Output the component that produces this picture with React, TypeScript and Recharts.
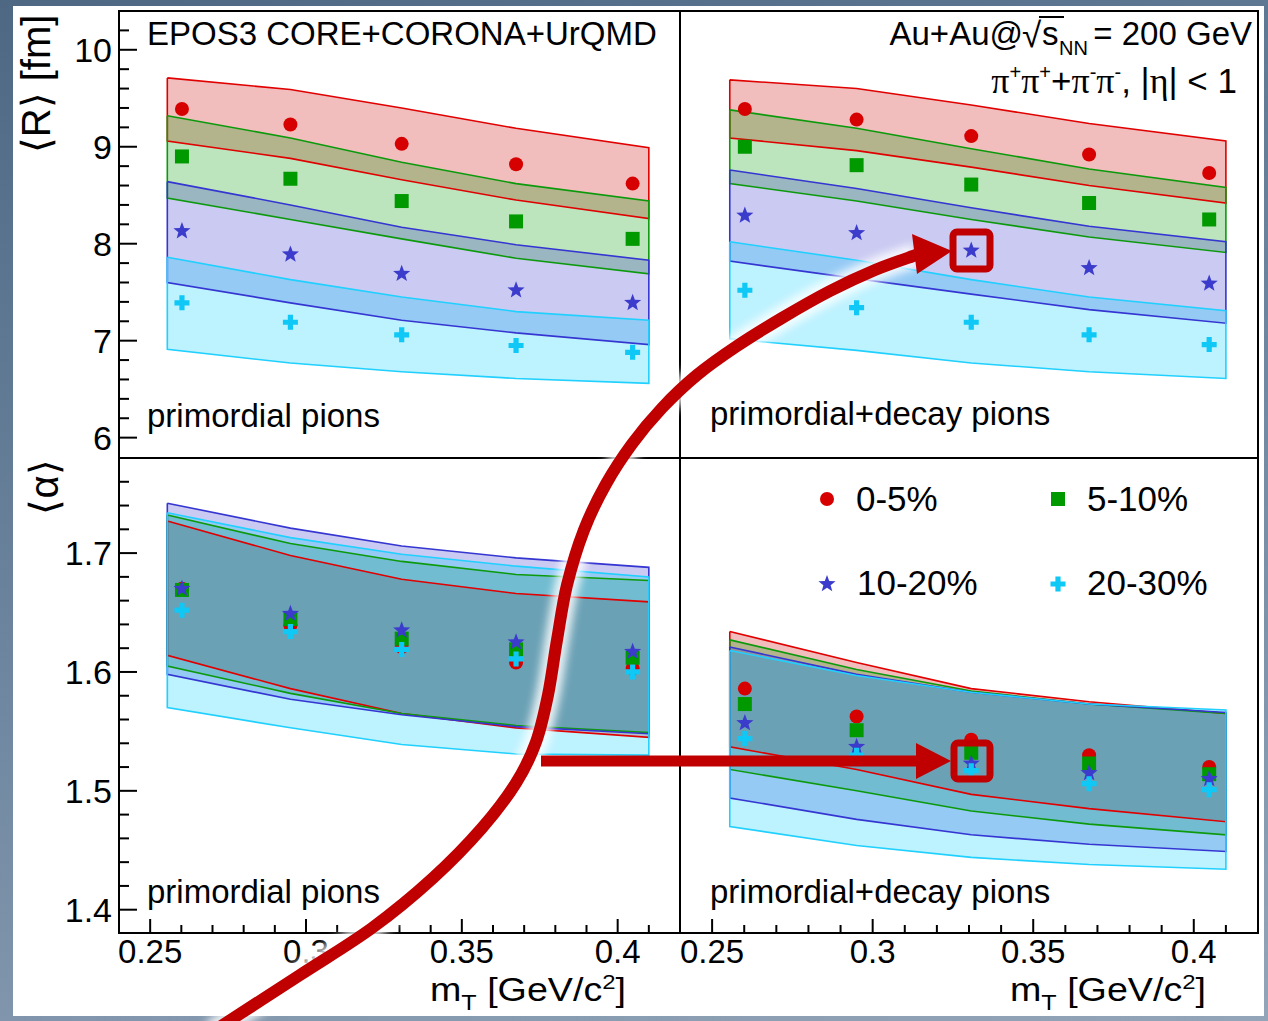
import React from "react";
import { ComposedChart, Area, Scatter, XAxis, YAxis } from "recharts";

// ---------------- data ----------------
const centralities = ["0-5%", "5-10%", "10-20%", "20-30%"];
const mT = [0.2602, 0.295, 0.3307, 0.3674, 0.4048];
const bandMT = [0.2555, 0.295, 0.3307, 0.3674, 0.41];

const xTicks = [0.25, 0.26, 0.27, 0.28, 0.29, 0.3, 0.31, 0.32, 0.33, 0.34, 0.35, 0.36, 0.37, 0.38, 0.39, 0.4, 0.41];
const xMajorTicks = [0.25, 0.3, 0.35, 0.4];
const xTickLabels = ["0.25", "0.3", "0.35", "0.4"];

const rTicks = [6, 6.2, 6.4, 6.6, 6.8, 7, 7.2, 7.4, 7.6, 7.8, 8, 8.2, 8.4, 8.6, 8.8, 9, 9.2, 9.4, 9.6, 9.8, 10, 10.2];
const rMajorTicks = [6, 7, 8, 9, 10];
const rTickLabels = ["6", "7", "8", "9", "10"];

const alphaTicks = [1.4, 1.42, 1.44, 1.46, 1.48, 1.5, 1.52, 1.54, 1.56, 1.58, 1.6, 1.62, 1.64, 1.66, 1.68, 1.7, 1.72, 1.74, 1.76];
const alphaMajorTicks = [1.4, 1.5, 1.6, 1.7];
const alphaTickLabels = ["1.4", "1.5", "1.6", "1.7"];

// <R> primordial pions (top-left)
const rPrim05 = [9.39, 9.23, 9.03, 8.82, 8.62];
const rPrim510 = [8.9, 8.67, 8.44, 8.23, 8.05];
const rPrim1020 = [8.13, 7.89, 7.69, 7.52, 7.39];
const rPrim2030 = [7.39, 7.19, 7.06, 6.95, 6.88];
const rPrimBand05Hi = [9.71, 9.59, 9.4, 9.19, 8.99];
const rPrimBand05Lo = [9.06, 8.88, 8.66, 8.45, 8.26];
const rPrimBand510Hi = [9.32, 9.09, 8.84, 8.62, 8.44];
const rPrimBand510Lo = [8.47, 8.25, 8.05, 7.85, 7.69];
const rPrimBand1020Hi = [8.64, 8.4, 8.17, 7.99, 7.83];
const rPrimBand1020Lo = [7.6, 7.39, 7.21, 7.08, 6.96];
const rPrimBand2030Hi = [7.86, 7.63, 7.45, 7.3, 7.21];
const rPrimBand2030Lo = [6.91, 6.77, 6.68, 6.61, 6.56];

// <R> primordial+decay pions (top-right)
const rDec05 = [9.39, 9.28, 9.11, 8.92, 8.73];
const rDec510 = [9.0, 8.81, 8.61, 8.42, 8.25];
const rDec1020 = [8.29, 8.11, 7.93, 7.75, 7.59];
const rDec2030 = [7.52, 7.34, 7.19, 7.06, 6.96];
const rDecBand05Hi = [9.69, 9.6, 9.43, 9.24, 9.06];
const rDecBand05Lo = [9.09, 8.96, 8.79, 8.6, 8.42];
const rDecBand510Hi = [9.38, 9.19, 8.98, 8.77, 8.58];
const rDecBand510Lo = [8.62, 8.44, 8.25, 8.07, 7.91];
const rDecBand1020Hi = [8.76, 8.57, 8.37, 8.18, 8.02];
const rDecBand1020Lo = [7.82, 7.64, 7.48, 7.32, 7.18];
const rDecBand2030Hi = [8.02, 7.83, 7.63, 7.45, 7.31];
const rDecBand2030Lo = [7.02, 6.9, 6.77, 6.68, 6.61];

// <alpha> primordial pions (bottom-left)
const aPrim05 = [1.67, 1.639, 1.621, 1.608, 1.603];
const aPrim510 = [1.669, 1.6445, 1.628, 1.619, 1.612];
const aPrim1020 = [1.67, 1.649, 1.635, 1.625, 1.617];
const aPrim2030 = [1.652, 1.634, 1.619, 1.611, 1.6];
const aPrimBand05Hi = [1.727, 1.698, 1.678, 1.666, 1.659];
const aPrimBand05Lo = [1.614, 1.586, 1.565, 1.553, 1.545];
const aPrimBand510Hi = [1.732, 1.708, 1.693, 1.682, 1.677];
const aPrimBand510Lo = [1.605, 1.582, 1.565, 1.555, 1.549];
const aPrimBand1020Hi = [1.742, 1.721, 1.706, 1.696, 1.688];
const aPrimBand1020Lo = [1.598, 1.577, 1.564, 1.554, 1.548];
const aPrimBand2030Hi = [1.734, 1.713, 1.699, 1.689, 1.68];
const aPrimBand2030Lo = [1.57, 1.553, 1.539, 1.531, 1.53];

// <alpha> primordial+decay pions (bottom-right)
const aDec05 = [1.586, 1.5625, 1.543, 1.53, 1.52];
const aDec510 = [1.573, 1.551, 1.532, 1.523, 1.514];
const aDec1020 = [1.557, 1.537, 1.523, 1.515, 1.51];
const aDec2030 = [1.544, 1.53, 1.517, 1.506, 1.501];
const aDecBand05Hi = [1.634, 1.608, 1.586, 1.575, 1.565];
const aDecBand05Lo = [1.537, 1.518, 1.497, 1.485, 1.474];
const aDecBand510Hi = [1.627, 1.602, 1.584, 1.573, 1.565];
const aDecBand510Lo = [1.518, 1.5, 1.483, 1.472, 1.463];
const aDecBand1020Hi = [1.621, 1.598, 1.583, 1.573, 1.566];
const aDecBand1020Lo = [1.494, 1.476, 1.463, 1.455, 1.449];
const aDecBand2030Hi = [1.618, 1.597, 1.583, 1.573, 1.568];
const aDecBand2030Lo = [1.47, 1.454, 1.444, 1.438, 1.434];

// ---------------- styles ----------------
const FONT = '"Liberation Sans", Arial, Helvetica, sans-serif';
const SERIF = '"Liberation Serif", "DejaVu Serif", serif';
const MARK = ["#d60000", "#009a00", "#3b3bcc", "#10c8f6"];
const FILL = ["#cc0000", "#009900", "#3333cc", "#00ccff"];
const EDGE = ["#e00000", "#0c9a0c", "#3535d2", "#20d0ff"];
const ANN = "#c00000";

type Series = { pts: number[]; hi: number[]; lo: number[] };

const starPath = (cx: number, cy: number, R = 9, r = 3.8) => {
  let d = "";
  for (let i = 0; i < 10; i++) {
    const ang = -Math.PI / 2 + (i * Math.PI) / 5;
    const rad = i % 2 === 0 ? R : r;
    d += (i === 0 ? "M" : "L") + (cx + rad * Math.cos(ang)).toFixed(2) + "," + (cy + rad * Math.sin(ang)).toFixed(2);
  }
  return d + "Z";
};
const crossPath = (cx: number, cy: number, a = 7.5, w = 2.6) =>
  `M${cx - w},${cy - a}H${cx + w}V${cy - w}H${cx + a}V${cy + w}H${cx + w}V${cy + a}H${cx - w}V${cy + w}H${cx - a}V${cy - w}H${cx - w}Z`;

const drawMarker = (k: number, cx: number, cy: number) => {
  if (k === 0) return <circle cx={cx} cy={cy} r={7} fill={MARK[0]} />;
  if (k === 1) return <rect x={cx - 7} y={cy - 7} width={14} height={14} fill={MARK[1]} />;
  if (k === 2) return <path d={starPath(cx, cy)} fill={MARK[2]} />;
  return <path d={crossPath(cx, cy)} fill={MARK[3]} />;
};

const MARKERS = [0, 1, 2, 3].map((k) => (p: any) => drawMarker(k, p.cx, p.cy));
const EmptyShape = () => <g />;

const outline = (s: Series) => {
  const up = bandMT.map((x, i) => ({ x, y: s.hi[i] }));
  const dn = bandMT.map((x, i) => ({ x, y: s.lo[i] })).reverse();
  return [...up, ...dn, up[0]];
};

const isOf = (list: number[], v: number) => list.findIndex((m) => Math.abs(m - v) < 1e-6);

const makeXTick = (showLabel: boolean) => (p: any) => {
  const { x, y, payload } = p;
  const idx = isOf(xMajorTicks, payload.value);
  const len = idx >= 0 ? 14 : 8;
  return (
    <g>
      <line x1={x} x2={x} y1={y} y2={y - len} stroke="#000" strokeWidth={2} />
      {showLabel && idx >= 0 && (
        <text x={x} y={y + 30} textAnchor="middle" fontSize={33} fontFamily={FONT} fill="#000">
          {xTickLabels[idx]}
        </text>
      )}
    </g>
  );
};

const makeYTick = (major: number[], labels: string[] | null) => (p: any) => {
  const { x, y, payload } = p;
  const idx = isOf(major, payload.value);
  const len = idx >= 0 ? 18 : 10;
  return (
    <g>
      <line x1={x} x2={x + len} y1={y} y2={y} stroke="#000" strokeWidth={2} />
      {labels && idx >= 0 && (
        <text x={x - 7} y={y + 12} textAnchor="end" fontSize={34} fontFamily={FONT} fill="#000">
          {labels[idx]}
        </text>
      )}
    </g>
  );
};

type PanelProps = {
  left: number;
  top: number;
  width: number;
  height: number;
  margin: { top: number; right: number; bottom: number; left: number };
  yAxisWidth: number;
  xAxisHeight: number;
  yDomain: [number, number];
  yTicks: number[];
  yMajor: number[];
  yLabels: string[] | null;
  showXLabels: boolean;
  series: Series[];
};

function Panel(props: PanelProps) {
  const { left, top, width, height, margin, yAxisWidth, xAxisHeight, yDomain, yTicks, yMajor, yLabels, showXLabels, series } = props;
  const rows = bandMT.map((x, i) => {
    const r: any = { x };
    series.forEach((s, k) => {
      r["b" + k] = [s.lo[i], s.hi[i]];
    });
    return r;
  });
  return (
    <div style={{ position: "absolute", left, top }}>
      <ComposedChart width={width} height={height} data={rows} margin={margin}>
        <XAxis
          dataKey="x"
          type="number"
          domain={[0.24, 0.42]}
          allowDataOverflow
          ticks={xTicks}
          interval={0}
          height={xAxisHeight}
          axisLine={false}
          tickLine={false}
          tickSize={0}
          tickMargin={0}
          tick={makeXTick(showXLabels)}
        />
        <YAxis
          type="number"
          domain={yDomain}
          allowDataOverflow
          ticks={yTicks}
          interval={0}
          width={yAxisWidth}
          axisLine={false}
          tickLine={false}
          tickSize={0}
          tickMargin={0}
          tick={makeYTick(yMajor, yLabels)}
        />
        {series.map((s, k) => (
          <Area
            key={"a" + k}
            dataKey={"b" + k}
            type="linear"
            fill={FILL[k]}
            fillOpacity={0.26}
            stroke="none"
            isAnimationActive={false}
          />
        ))}
        {series.map((s, k) => (
          <Scatter
            key={"o" + k}
            data={outline(s)}
            dataKey="y"
            line={{ stroke: EDGE[k], strokeWidth: 1.6 }}
            shape={EmptyShape}
            isAnimationActive={false}
          />
        ))}
        {series.map((s, k) => (
          <Scatter
            key={"p" + k}
            name={centralities[k]}
            data={mT.map((x, i) => ({ x, y: s.pts[i] }))}
            dataKey="y"
            shape={MARKERS[k]}
            isAnimationActive={false}
          />
        ))}
      </ComposedChart>
    </div>
  );
}

// Catmull-Rom through annotation points
const smoothPath = (pts: number[][]) => {
  let d = `M${pts[0][0]},${pts[0][1]}`;
  for (let i = 0; i < pts.length - 1; i++) {
    const p0 = pts[Math.max(0, i - 1)];
    const p1 = pts[i];
    const p2 = pts[i + 1];
    const p3 = pts[Math.min(pts.length - 1, i + 2)];
    const c1 = [p1[0] + (p2[0] - p0[0]) / 6, p1[1] + (p2[1] - p0[1]) / 6];
    const c2 = [p2[0] - (p3[0] - p1[0]) / 6, p2[1] - (p3[1] - p1[1]) / 6];
    d += `C${c1[0].toFixed(1)},${c1[1].toFixed(1)} ${c2[0].toFixed(1)},${c2[1].toFixed(1)} ${p2[0]},${p2[1]}`;
  }
  return d;
};

const curvePts = [
  [212, 1032], [300, 975], [372, 928], [433, 878], [482, 828], [516, 783], [536, 742], [548, 695],
  [557, 640], [567, 585], [584, 530], [606, 484], [632, 444], [662, 408], [697, 375], [737, 346],
  [782, 318], [830, 291], [875, 270], [916, 255],
];

export default function App() {
  const seriesTL: Series[] = [
    { pts: rPrim05, hi: rPrimBand05Hi, lo: rPrimBand05Lo },
    { pts: rPrim510, hi: rPrimBand510Hi, lo: rPrimBand510Lo },
    { pts: rPrim1020, hi: rPrimBand1020Hi, lo: rPrimBand1020Lo },
    { pts: rPrim2030, hi: rPrimBand2030Hi, lo: rPrimBand2030Lo },
  ];
  const seriesTR: Series[] = [
    { pts: rDec05, hi: rDecBand05Hi, lo: rDecBand05Lo },
    { pts: rDec510, hi: rDecBand510Hi, lo: rDecBand510Lo },
    { pts: rDec1020, hi: rDecBand1020Hi, lo: rDecBand1020Lo },
    { pts: rDec2030, hi: rDecBand2030Hi, lo: rDecBand2030Lo },
  ];
  const seriesBL: Series[] = [
    { pts: aPrim05, hi: aPrimBand05Hi, lo: aPrimBand05Lo },
    { pts: aPrim510, hi: aPrimBand510Hi, lo: aPrimBand510Lo },
    { pts: aPrim1020, hi: aPrimBand1020Hi, lo: aPrimBand1020Lo },
    { pts: aPrim2030, hi: aPrimBand2030Hi, lo: aPrimBand2030Lo },
  ];
  const seriesBR: Series[] = [
    { pts: aDec05, hi: aDecBand05Hi, lo: aDecBand05Lo },
    { pts: aDec510, hi: aDecBand510Hi, lo: aDecBand510Lo },
    { pts: aDec1020, hi: aDecBand1020Hi, lo: aDecBand1020Lo },
    { pts: aDec2030, hi: aDecBand2030Hi, lo: aDecBand2030Lo },
  ];
  const rDomain: [number, number] = [5.79, 10.4];
  const aDomain: [number, number] = [1.3804, 1.78];

  const legendItems = [
    { k: 0, mx: 827, my: 499, tx: 856, ty: 511 },
    { k: 1, mx: 1058, my: 499, tx: 1087, ty: 511 },
    { k: 2, mx: 827, my: 584, tx: 857, ty: 595 },
    { k: 3, mx: 1058, my: 584, tx: 1087, ty: 595 },
  ];
  const curveD = smoothPath(curvePts);

  return (
    <div
      style={{
        position: "absolute",
        left: 0,
        top: 0,
        width: 1268,
        height: 1021,
        overflow: "hidden",
        background: "linear-gradient(165deg, #4e6884 0%, #7189a2 55%, #93a5b8 100%)",
        fontFamily: FONT,
      }}
    >
      <div style={{ position: "absolute", left: 13, top: 6, width: 1251, height: 1010, background: "#fff" }} />

      <Panel
        left={0}
        top={0}
        width={680}
        height={458}
        margin={{ top: 11, right: 0, bottom: 0, left: 0 }}
        yAxisWidth={119}
        xAxisHeight={0}
        yDomain={rDomain}
        yTicks={rTicks}
        yMajor={rMajorTicks}
        yLabels={rTickLabels}
        showXLabels={false}
        series={seriesTL}
      />
      <Panel
        left={680}
        top={0}
        width={588}
        height={458}
        margin={{ top: 11, right: 10, bottom: 0, left: 0 }}
        yAxisWidth={0}
        xAxisHeight={0}
        yDomain={rDomain}
        yTicks={rTicks}
        yMajor={rMajorTicks}
        yLabels={null}
        showXLabels={false}
        series={seriesTR}
      />
      <Panel
        left={0}
        top={458}
        width={680}
        height={563}
        margin={{ top: 0, right: 0, bottom: 0, left: 0 }}
        yAxisWidth={119}
        xAxisHeight={88}
        yDomain={aDomain}
        yTicks={alphaTicks}
        yMajor={alphaMajorTicks}
        yLabels={alphaTickLabels}
        showXLabels={true}
        series={seriesBL}
      />
      <Panel
        left={680}
        top={458}
        width={588}
        height={563}
        margin={{ top: 0, right: 10, bottom: 0, left: 0 }}
        yAxisWidth={0}
        xAxisHeight={88}
        yDomain={aDomain}
        yTicks={alphaTicks}
        yMajor={alphaMajorTicks}
        yLabels={null}
        showXLabels={true}
        series={seriesBR}
      />

      <svg
        width={1268}
        height={1021}
        style={{ position: "absolute", left: 0, top: 0, pointerEvents: "none" }}
        fontFamily={FONT}
      >
        <defs>
          <filter id="glow" x="-10%" y="-10%" width="120%" height="120%">
            <feGaussianBlur stdDeviation="4" />
          </filter>
        </defs>
        {/* frames */}
        <rect x={119} y={11} width={1139} height={922} fill="none" stroke="#000" strokeWidth={2} />
        <line x1={680} x2={680} y1={11} y2={933} stroke="#000" strokeWidth={2} />
        <line x1={119} x2={1258} y1={458} y2={458} stroke="#000" strokeWidth={2} />

        {/* panel texts */}
        <text x={147} y={45} fontSize={33} fill="#000">EPOS3 CORE+CORONA+UrQMD</text>
        <text x={147} y={427} fontSize={33} fill="#000">primordial pions</text>
        <text x={710} y={425} fontSize={33} fill="#000">primordial+decay pions</text>
        <text x={147} y={903} fontSize={33} fill="#000">primordial pions</text>
        <text x={710} y={903} fontSize={33} fill="#000">primordial+decay pions</text>

        {/* collision system */}
        <text x={1023} y={45} fontSize={33} fill="#000" textAnchor="end">Au+Au@</text>
        <text x={1022} y={47} fontSize={35} fill="#000">√</text>
        <line x1={1039} x2={1064} y1={17} y2={17} stroke="#000" strokeWidth={2} />
        <text x={1042} y={45} fontSize={33} fill="#000">s</text>
        <text x={1059} y={55} fontSize={20} fill="#000">NN</text>
        <text x={1252} y={45} fontSize={33} fill="#000" textAnchor="end">= 200 GeV</text>
        <text x={1237} y={93} fontSize={35} fill="#000" textAnchor="end">
          <tspan fontFamily={SERIF} fontSize={36}>π</tspan>
          <tspan dy={-14} fontSize={20}>+</tspan>
          <tspan dy={14} fontFamily={SERIF} fontSize={36}>π</tspan>
          <tspan dy={-14} fontSize={20}>+</tspan>
          <tspan dy={14}>+</tspan>
          <tspan fontFamily={SERIF} fontSize={36}>π</tspan>
          <tspan dy={-14} fontSize={20}>-</tspan>
          <tspan dy={14} fontFamily={SERIF} fontSize={36}>π</tspan>
          <tspan dy={-14} fontSize={20}>-</tspan>
          <tspan dy={14}>, |</tspan>
          <tspan fontFamily={SERIF} fontSize={36}>η</tspan>
          <tspan>| &lt; 1</tspan>
        </text>

        {/* axis titles */}
        <text transform="translate(50,84) rotate(-90)" textAnchor="middle" fontSize={40} fill="#000">⟨R⟩ [fm]</text>
        <text transform="translate(58,487) rotate(-90)" textAnchor="middle" fontSize={40} fill="#000">⟨α⟩</text>
        {[430, 1010].map((x0) => (
          <text key={x0} x={x0} y={1001} fontSize={33} fill="#000" textLength={196} lengthAdjust="spacingAndGlyphs">
            m<tspan dy={9} fontSize={22}>T</tspan>
            <tspan dy={-9}> [GeV/c</tspan>
            <tspan dy={-12} fontSize={21}>2</tspan>
            <tspan dy={12}>]</tspan>
          </text>
        ))}

        {/* legend */}
        {legendItems.map((it) => (
          <g key={it.k}>
            {drawMarker(it.k, it.mx, it.my)}
            <text x={it.tx} y={it.ty} fontSize={35} fill="#000">{centralities[it.k]}</text>
          </g>
        ))}

        {/* annotation arrows */}
        <path d={curveD} fill="none" stroke="#fff" strokeWidth={24} opacity={0.85} filter="url(#glow)" />
        <line x1={541} x2={918} y1={761} y2={761} stroke="#fff" strokeWidth={22} opacity={0.85} filter="url(#glow)" />
        <path d={curveD} fill="none" stroke={ANN} strokeWidth={12} />
        <path d="M912,234 L952,251 L917,274 Z" fill={ANN} />
        <line x1={541} x2={920} y1={761} y2={761} stroke={ANN} strokeWidth={11} />
        <path d="M916,743 L951,761 L916,779 Z" fill={ANN} />
        <rect x={953} y={232} width={37} height={37} rx={4} fill="none" stroke={ANN} strokeWidth={7} />
        <rect x={954} y={743} width={36} height={36} rx={4} fill="none" stroke={ANN} strokeWidth={7} />
      </svg>
    </div>
  );
}
